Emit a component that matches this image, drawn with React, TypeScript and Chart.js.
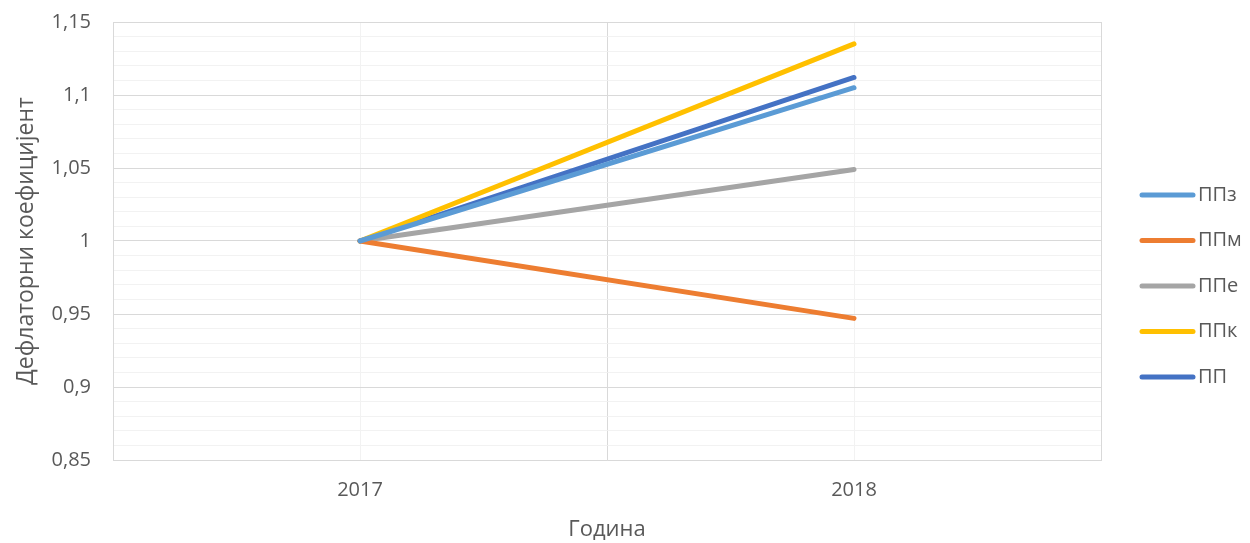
import React, { useEffect, useRef } from "react";
import { Chart, registerables } from "chart.js";

Chart.register(...registerables);

const categories = ["2017", "2018"];
const seriesNames = ["ППз", "ППм", "ППе", "ППк", "ПП"];
const ppz = [1, 1.105];
const ppm = [1, 0.947];
const ppe = [1, 1.049];
const ppk = [1, 1.135];
const pp = [1, 1.112];
const seriesColors = ["#5B9BD5", "#ED7D31", "#A5A5A5", "#FFC000", "#4472C4"];
const yTitle = "Дефлаторни коефицијент";
const xTitle = "Година";

const FONT = "'Open Sans', 'Noto Sans', sans-serif";
const TEXT = "#595959";

const minorGrid = {
  id: "minorGrid",
  beforeDraw(chart: any) {
    const { ctx, chartArea, scales } = chart;
    const x = scales.x;
    ctx.save();
    ctx.strokeStyle = "#f2f2f2";
    ctx.lineWidth = 1;
    for (let i = 0; i < categories.length; i++) {
      const px = Math.round(x.getPixelForValue(i)) + 0.5;
      ctx.beginPath();
      ctx.moveTo(px, chartArea.top);
      ctx.lineTo(px, chartArea.bottom);
      ctx.stroke();
    }
    ctx.restore();
  },
};

const customLegend = {
  id: "customLegend",
  afterDraw(chart: any) {
    const { ctx } = chart;
    ctx.save();
    const startY = 195;
    const step = 45.5;
    chart.data.datasets.forEach((ds: any, i: number) => {
      const y = startY + i * step;
      ctx.strokeStyle = ds.borderColor;
      ctx.lineWidth = 5;
      ctx.lineCap = "round";
      ctx.beginPath();
      ctx.moveTo(1142, y);
      ctx.lineTo(1193, y);
      ctx.stroke();
      ctx.fillStyle = TEXT;
      ctx.font = `20px ${FONT}`;
      ctx.textAlign = "left";
      ctx.textBaseline = "middle";
      ctx.fillText(ds.label, 1198, y);
    });
    ctx.restore();
  },
};

export default function App() {
  const ref = useRef<HTMLCanvasElement | null>(null);
  useEffect(() => {
    if (!ref.current) return;
    const values = [ppz, ppm, ppe, ppk, pp];
    const chart = new Chart(ref.current, {
      type: "line",
      data: {
        labels: categories,
        datasets: seriesNames.map((name, i) => ({
          label: name,
          data: values[i],
          borderColor: seriesColors[i],
          backgroundColor: seriesColors[i],
          borderWidth: 5,
          borderCapStyle: "round",
          pointRadius: 0,
          fill: false,
          tension: 0,
        })),
      },
      options: {
        animation: false,
        responsive: false,
        maintainAspectRatio: false,
        layout: { padding: { top: 22, right: 149, left: 0, bottom: 0 } },
        plugins: {
          legend: { display: false },
          tooltip: { enabled: false },
        },
        scales: {
          x: {
            type: "category",
            offset: true,
            grid: {
              offset: true,
              color: "#d9d9d9",
              lineWidth: 1,
              drawTicks: false,
            },
            border: { color: "#d9d9d9", width: 1 },
            ticks: {
              color: TEXT,
              font: { family: FONT, size: 20 },
              padding: 18,
            },
            title: {
              display: true,
              text: xTitle,
              color: TEXT,
              font: { family: FONT, size: 22 },
              padding: { top: 0, bottom: 0 },
            },
            afterFit(scale: any) {
              scale.height = 83;
              scale.paddingLeft = 0;
              scale.paddingRight = 0;
            },
          },
          y: {
            min: 0.85,
            max: 1.15,
            grid: {
              color: (c: any) => {
                const v = Math.round(c.tick.value * 100);
                return v % 5 === 0 ? "#d9d9d9" : "#f2f2f2";
              },
              lineWidth: 1,
              drawTicks: false,
            },
            border: { color: "#d9d9d9", width: 1 },
            ticks: {
              stepSize: 0.01,
              autoSkip: false,
              color: TEXT,
              font: { family: FONT, size: 20 },
              padding: 22,
              callback: (v: any) => {
                const r = Math.round(Number(v) * 100);
                if (r % 5 !== 0) return "";
                return String(r / 100).replace(".", ",");
              },
            },
            title: {
              display: true,
              text: yTitle,
              color: TEXT,
              font: { family: FONT, size: 23 },
              padding: { top: 13, bottom: 0 },
            },
            afterFit(scale: any) {
              scale.width = 113;
              scale.paddingTop = 0;
              scale.paddingBottom = 0;
            },
          },
        },
      },
      plugins: [minorGrid, customLegend],
    } as any);
    return () => chart.destroy();
  }, []);
  return (
    <div style={{ position: "fixed", left: 0, top: 0, width: 1250, height: 543, background: "#fff" }}>
      <canvas ref={ref} width={1250} height={543} style={{ width: 1250, height: 543 }} />
    </div>
  );
}
